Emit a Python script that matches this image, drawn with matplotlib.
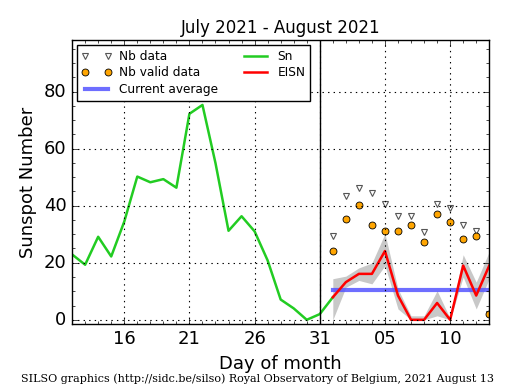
import numpy as np
import matplotlib
matplotlib.use('Agg')
import matplotlib.pyplot as plt
from matplotlib.ticker import MultipleLocator

#-----------------------------------------------------------------------------
# days counted from 1 July 2021 (32 = 1 August)
sn_days = np.arange(12, 33)
sn = [22.9, 19.3, 29.1, 22.2, 34.4, 50.2, 48.2, 49.3, 46.3, 72.2, 75.3,
      54.9, 31.2, 36.3, 31.0, 20.8, 7.1, 4.0, 0.0, 2.0, 7.9]

eisn_days = np.arange(32, 45)
eisn = [7.9, 13.2, 16.1, 16.1, 24.1, 8.5, 0.0, 0.0, 5.9, 0.0, 19.0, 8.5, 19.0]
eisn_lo = [0.0, 11.4, 13.8, 12.6, 19.0, 3.8, 0.0, 0.0, 1.4, 0.0, 15.0, 3.8, 14.4]
eisn_hi = [14.4, 15.3, 18.2, 19.9, 30.2, 10.8, 1.4, 1.4, 10.2, 0.5, 22.8, 13.2, 23.9]
nb_data = [29.3, 43.5, 46.3, 44.3, 40.5, 36.5, 36.5, 30.6, 40.5, 39.3, 33.2, 31.2, 2.0]
nb_valid = [24.1, 35.3, 40.2, 33.2, 31.0, 31.0, 33.2, 27.2, 37.0, 34.4, 28.2, 29.3, 2.0]
current_avg = 10.4

tick_pos = [16, 21, 26, 31, 36, 41]
tick_lab = ['16', '21', '26', '31', '05', '10']

#-----------------------------------------------------------------------------
plt.style.use('classic')
fig = plt.figure(figsize=(5.15, 3.9), dpi=100, facecolor='white')
ax = fig.add_axes([0.140, 0.169, 0.810, 0.728])

ax.fill_between(eisn_days, eisn_lo, eisn_hi, color='#c8c8c8', lw=0)
ax.plot(eisn_days, nb_data, 'v', ms=4.5, mfc='white', mec='#555555', mew=0.8,
        label='Nb data')
ax.plot(eisn_days, nb_valid, 'o', ms=5, mfc='orange', mec='black', mew=0.6,
        label='Nb valid data')
ax.plot([32, 44], [current_avg, current_avg], color='#5555ff', lw=3, alpha=0.85,
        label='Current average')
ax.plot(sn_days, sn, color='#22cc22', lw=1.8, label='Sn')
ax.plot(eisn_days, eisn, color='red', lw=1.8, label='EISN')
ax.axvline(31, color='black', lw=1)

ax.set_xlim(12, 44)
ax.set_ylim(-1.5, 98)
ax.set_xticks(tick_pos)
ax.set_xticklabels(tick_lab)
ax.xaxis.set_minor_locator(MultipleLocator(1))
ax.yaxis.set_major_locator(MultipleLocator(20))
ax.yaxis.set_minor_locator(MultipleLocator(5))
ax.tick_params(labelsize=13)
ax.grid(True, which='major', linestyle=':', color='black', lw=0.8)

ax.set_title('July 2021 - August 2021', fontsize=12)
ax.set_xlabel('Day of month', fontsize=13)
ax.set_ylabel('Sunspot Number', fontsize=13)
ax.legend(loc='upper left', ncol=2, fontsize=8.7, numpoints=2,
          borderaxespad=0.4, handlelength=2.5, columnspacing=1.8,
          labelspacing=0.3, borderpad=0.4, handletextpad=0.6)

fig.text(0.5, 0.02, 'SILSO graphics (http://sidc.be/silso) Royal Observatory of Belgium, 2021 August 13',
         ha='center', fontsize=8, family='DejaVu Serif')

fig.savefig('out.png', dpi=100, facecolor='white')
